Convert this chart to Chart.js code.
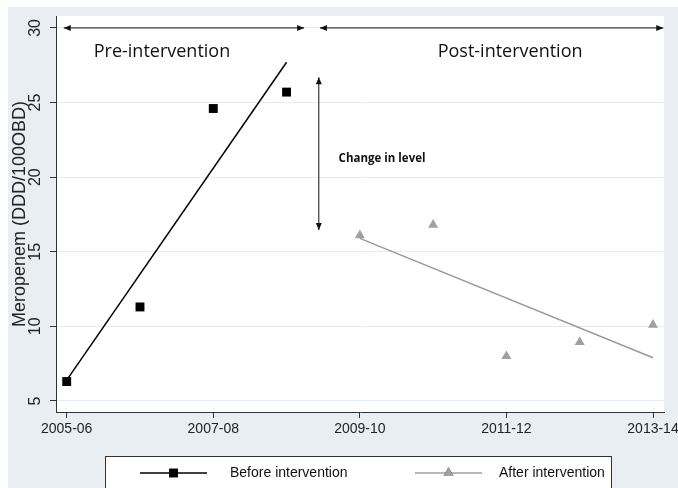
<!DOCTYPE html>
<html>
<head>
<meta charset="utf-8">
<script src="https://cdn.jsdelivr.net/npm/chart.js@4.4.1/dist/chart.umd.min.js"></script>
<style>
  html, body { margin: 0; padding: 0; background: #ffffff; }
  #wrap { width: 678px; height: 488px; }
</style>
</head>
<body>
<div id="wrap"><canvas id="chart" width="678" height="488"></canvas></div>
<script>
// Financial years on the x axis (index = year number)
const categories = ['2005-06', '2006-07', '2007-08', '2008-09', '2009-10', '2010-11', '2011-12', '2012-13', '2013-14'];
const xTickIndex = [0, 2, 4, 6, 8];
const yTicks = [5, 10, 15, 20, 25, 30];

// Meropenem use, DDD per 100 occupied bed-days
const beforeYears = [0, 1, 2, 3];
const beforeValues = [6.3, 11.3, 24.6, 25.7];
const afterYears = [4, 5, 6, 7, 8];
const afterValues = [16.1, 16.8, 8.0, 8.95, 10.1];

// Fitted segmented-regression lines (start and end of each segment)
const beforeTrendYears = [0, 3];
const beforeTrendValues = [6.4, 27.7];
const afterTrendYears = [4, 8];
const afterTrendValues = [15.9, 7.9];

const seriesLabels = ['Before intervention', 'After intervention'];

// Annotation arrows, in axis units: [x1, y1, x2, y2]
const periodArrows = [
  [-0.04, 30, 3.24, 30],
  [3.455, 30, 8.14, 30],
  [3.44, 26.7, 3.44, 16.45]
];
const periodTexts = [
  { text: 'Pre-intervention', x: 1.3, y: 28.04, align: 'center', font: '18px "Open Sans"' },
  { text: 'Post-intervention', x: 6.05, y: 28.04, align: 'center', font: '18px "Open Sans"' },
  { text: 'Change in level', x: 3.71, y: 21.0, align: 'left', font: 'bold 11.5px "Open Sans"' }
];

const SANS = '"Liberation Sans", Arial, sans-serif';
const INK = '#222222';
const GREY = '#a0a0a0';

const pts = (xs, ys) => xs.map((x, i) => ({ x: x, y: ys[i] }));

const backgroundPlugin = {
  id: 'graphRegion',
  beforeDraw(chart) {
    const ctx = chart.ctx, a = chart.chartArea;
    ctx.save();
    ctx.fillStyle = '#ffffff';
    ctx.fillRect(0, 0, chart.width, chart.height);
    ctx.fillStyle = '#e8eef2';
    ctx.fillRect(8, 7, chart.width - 8, chart.height - 7);
    ctx.fillStyle = '#ffffff';
    ctx.fillRect(a.left, a.top, a.right - a.left, a.bottom - a.top);
    ctx.restore();
  }
};

function arrowHead(ctx, x1, y1, x2, y2) {
  const ang = Math.atan2(y2 - y1, x2 - x1);
  const len = 7, half = 3;
  ctx.beginPath();
  ctx.moveTo(x2, y2);
  ctx.lineTo(x2 - len * Math.cos(ang) + half * Math.sin(ang), y2 - len * Math.sin(ang) - half * Math.cos(ang));
  ctx.lineTo(x2 - len * Math.cos(ang) - half * Math.sin(ang), y2 - len * Math.sin(ang) + half * Math.cos(ang));
  ctx.closePath();
  ctx.fill();
}

const annotationPlugin = {
  id: 'periodAnnotations',
  afterDatasetsDraw(chart) {
    const ctx = chart.ctx, xs = chart.scales.x, ys = chart.scales.y;
    ctx.save();
    ctx.strokeStyle = '#111';
    ctx.fillStyle = '#111';
    ctx.lineWidth = 1;
    periodArrows.forEach(([ax1, ay1, ax2, ay2]) => {
      const x1 = xs.getPixelForValue(ax1), y1 = ys.getPixelForValue(ay1);
      const x2 = xs.getPixelForValue(ax2), y2 = ys.getPixelForValue(ay2);
      ctx.beginPath();
      ctx.moveTo(x1, y1);
      ctx.lineTo(x2, y2);
      ctx.stroke();
      arrowHead(ctx, x1, y1, x2, y2);
      arrowHead(ctx, x2, y2, x1, y1);
    });
    periodTexts.forEach(t => {
      ctx.font = t.font;
      ctx.textAlign = t.align;
      ctx.textBaseline = 'alphabetic';
      ctx.fillStyle = '#111';
      ctx.fillText(t.text, xs.getPixelForValue(t.x), ys.getPixelForValue(t.y));
    });
    ctx.restore();
  }
};

const yLabelPlugin = {
  id: 'verticalTickLabels',
  afterDraw(chart) {
    const ctx = chart.ctx, ys = chart.scales.y;
    ctx.save();
    ctx.font = '16px ' + SANS;
    ctx.fillStyle = INK;
    ctx.textAlign = 'center';
    ctx.textBaseline = 'middle';
    yTicks.forEach(v => {
      const py = ys.getPixelForValue(v);
      ctx.save();
      ctx.translate(36, py);
      ctx.rotate(-Math.PI / 2);
      ctx.fillText(String(v), 0, 0);
      ctx.restore();
    });
    ctx.restore();
  }
};

const legendPlugin = {
  id: 'boxLegend',
  afterDraw(chart) {
    const ctx = chart.ctx;
    ctx.save();
    ctx.fillStyle = '#ffffff';
    ctx.fillRect(105, 456, 507, 40);
    ctx.strokeStyle = '#333';
    ctx.lineWidth = 1;
    ctx.strokeRect(105.5, 456.5, 506, 40);
    const y = 473;
    const items = [
      { x1: 140, x2: 207, tx: 230, ds: chart.data.datasets[0] },
      { x1: 415, x2: 482, tx: 499, ds: chart.data.datasets[2] }
    ];
    items.forEach((it, i) => {
      ctx.strokeStyle = it.ds.borderColor === 'transparent' ? it.ds.pointBackgroundColor : it.ds.pointBackgroundColor;
      ctx.lineWidth = i === 0 ? 1.5 : 1.5;
      ctx.beginPath();
      ctx.moveTo(it.x1, y);
      ctx.lineTo(it.x2, y);
      ctx.stroke();
      Chart.helpers.drawPoint(ctx, {
        pointStyle: it.ds.pointStyle,
        radius: it.ds.pointRadius,
        borderWidth: 0,
        rotation: 0
      }, (it.x1 + it.x2) / 2, y);
      ctx.fillStyle = it.ds.pointBackgroundColor;
      ctx.fill();
      ctx.fillStyle = '#111';
      ctx.font = '14px ' + SANS;
      ctx.textAlign = 'left';
      ctx.textBaseline = 'middle';
      ctx.fillText(seriesLabels[i], it.tx, y);
    });
    ctx.restore();
  }
};

new Chart(document.getElementById('chart'), {
  type: 'scatter',
  data: {
    datasets: [
      {
        label: seriesLabels[0],
        data: pts(beforeYears, beforeValues),
        pointStyle: 'rect',
        pointRadius: 6.3,
        pointBackgroundColor: '#000000',
        pointBorderWidth: 0,
        borderColor: '#000000',
        showLine: false,
        order: 0
      },
      {
        label: 'Before trend',
        data: pts(beforeTrendYears, beforeTrendValues),
        showLine: true,
        borderColor: '#000000',
        borderWidth: 1.5,
        pointRadius: 0,
        order: 1
      },
      {
        label: seriesLabels[1],
        data: pts(afterYears, afterValues),
        pointStyle: 'triangle',
        pointRadius: 5.8,
        pointBackgroundColor: GREY,
        pointBorderWidth: 0,
        borderColor: GREY,
        showLine: false,
        order: 0
      },
      {
        label: 'After trend',
        data: pts(afterTrendYears, afterTrendValues),
        showLine: true,
        borderColor: '#9a9a9a',
        borderWidth: 1.5,
        pointRadius: 0,
        order: 1
      }
    ]
  },
  options: {
    responsive: false,
    devicePixelRatio: 1,
    animation: false,
    layout: { padding: { left: 0, right: 14, top: 16, bottom: 0 } },
    plugins: {
      legend: { display: false },
      tooltip: { enabled: false }
    },
    scales: {
      x: {
        type: 'linear',
        min: -0.146,
        max: 8.15,
        afterBuildTicks(scale) { scale.ticks = xTickIndex.map(v => ({ value: v })); },
        afterFit(scale) { scale.height = 76; scale.paddingLeft = 0; scale.paddingRight = 0; },
        grid: { drawOnChartArea: false, drawTicks: true, tickLength: 6, tickColor: '#333', tickWidth: 1 },
        border: { display: true, color: '#333', width: 1 },
        ticks: {
          autoSkip: false,
          maxRotation: 0,
          minRotation: 0,
          padding: 3,
          color: INK,
          font: { family: SANS, size: 14 },
          callback: (v) => categories[v]
        }
      },
      y: {
        min: 4.26,
        max: 30.8,
        afterBuildTicks(scale) { scale.ticks = yTicks.map(v => ({ value: v })); },
        afterFit(scale) { scale.width = 56; scale.paddingTop = 0; scale.paddingBottom = 0; },
        grid: { color: '#e4edf5', lineWidth: 1, drawTicks: true, tickLength: 6, tickColor: '#333', tickWidth: 1 },
        border: { display: true, color: '#333', width: 1 },
        ticks: { display: false },
        title: {
          display: true,
          text: 'Meropenem (DDD/100OBD)',
          color: INK,
          font: { family: SANS, size: 18 },
          padding: { top: 9, bottom: 0 }
        }
      }
    }
  },
  plugins: [backgroundPlugin, annotationPlugin, yLabelPlugin, legendPlugin]
});
</script>
</body>
</html>
